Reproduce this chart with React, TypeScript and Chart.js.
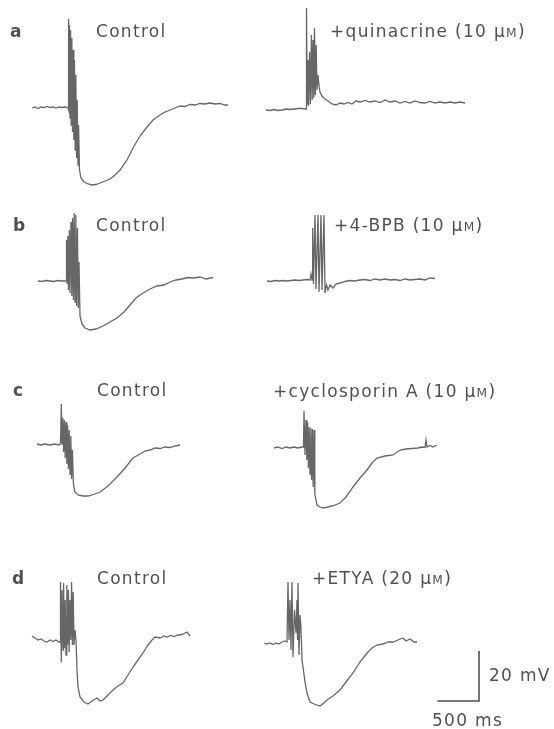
import React, { useEffect, useRef } from "react";
import { Chart, registerables } from "chart.js";

Chart.register(...registerables);

// ---------- data: time (ms from trace start), membrane potential (mV relative to resting level) ----------
const aControlT = [0, 36, 72, 108, 144, 180, 216, 252, 288, 324, 360, 396, 426, 432, 436, 442, 449, 456, 463, 470, 478, 486, 493, 502, 509, 518, 526, 535, 542, 552, 559, 570, 588, 624, 672, 720, 768, 816, 876, 936, 996, 1056, 1140, 1212, 1296, 1380, 1452, 1536, 1596, 1656, 1716, 1776, 1836, 1896, 1956, 2016, 2076, 2136, 2196, 2256, 2316, 2352];
const aControlV = [0, 0.4, -0.2, 0.4, 0.2, 0.6, 0.2, 0.4, 0, 0.4, 0.2, 0.4, 0.2, 0, 35.6, -0.8, 33.2, -4, 31.2, -6.8, 28, -9.6, 23.2, -12.8, 19.2, -16.8, 13.2, -20, 3.2, -22.8, -6.8, -24.8, -28, -29.6, -30.4, -30.8, -30.6, -30, -29.2, -28.4, -26.8, -24.8, -20.8, -16, -11.2, -7.6, -4.8, -2.8, -1.6, -0.8, 0, 0.8, 0.6, 1.4, 1.2, 1.8, 1.6, 2, 1.6, 1.8, 1.2, 1.2];

const aQuinT = [0, 48, 96, 144, 192, 240, 288, 336, 384, 432, 480, 486, 494, 504, 511, 523, 533, 545, 554, 564, 574, 582, 592, 602, 612, 624, 636, 648, 672, 708, 744, 792, 840, 888, 936, 984, 1032, 1080, 1128, 1188, 1248, 1308, 1368, 1428, 1488, 1548, 1608, 1668, 1728, 1788, 1848, 1908, 1968, 2028, 2088, 2148, 2208, 2268, 2328, 2388];
const aQuinV = [0, -0.2, 0.2, -0.2, 0, 0.4, 0.2, 0.4, 0.6, 0.6, 0.4, 40.8, 2, 20, 1.6, 23.2, 2.4, 30, 4, 28, 4.8, 32.8, 6, 26, 8, 14, 9.6, 7.2, 5.6, 4.4, 3.6, 2.4, 2, 2.8, 2.4, 3, 2.4, 3.6, 3.2, 3.8, 3.2, 3.6, 3, 4, 3.2, 3.6, 2.8, 3.4, 2.8, 3.6, 3, 2.8, 3.4, 2.8, 3.2, 2.8, 3.2, 2.8, 3.2, 2.8];

const bControlT = [0, 48, 96, 144, 192, 240, 288, 336, 342, 348, 358, 366, 376, 384, 396, 406, 415, 425, 434, 444, 454, 463, 473, 484, 492, 504, 528, 564, 624, 696, 780, 864, 948, 1032, 1104, 1176, 1260, 1344, 1428, 1512, 1584, 1656, 1728, 1800, 1872, 1944, 2016, 2100];
const bControlV = [0, -0.2, 0.2, 0, -0.2, 0.2, 0, 0, 16.4, -0.8, 18, -3.6, 20.4, -4.8, 23.6, -6, 25.2, -7.6, 27.2, -8.4, 26.4, -10, 21.2, -10.8, 7.6, -14, -17.2, -18.8, -19.6, -19.2, -18, -16.4, -14.8, -12.4, -9.6, -6.8, -4.8, -3.2, -2, -1.6, -0.4, 0.4, 0.8, 1.4, 1.2, 1.6, 0.8, 1.4];

const bBpbT = [0, 48, 96, 144, 192, 240, 288, 336, 384, 432, 480, 516, 528, 540, 548, 558, 576, 588, 612, 624, 648, 660, 684, 696, 714, 732, 756, 792, 828, 876, 936, 996, 1056, 1116, 1176, 1236, 1296, 1356, 1416, 1476, 1536, 1596, 1656, 1716, 1776, 1836, 1896, 1956, 2016];
const bBpbV = [0, -0.2, 0.2, 0, 0.2, 0, 0.2, 0.4, 0.2, 0.4, 0.6, 0.4, 2.8, 0.4, 21.2, -1.2, 26.4, -3.2, 26.4, -4.4, 26.4, -3.6, 26.4, -4.8, -1.6, -3.6, -1.6, -2.8, -1.2, -0.8, -0.2, 0.2, 0, 0.4, 0.6, 0.2, 0.8, 0.4, 0.8, 0.4, 0.6, 0.2, 0.8, 0.4, 0.6, 0.8, 0.4, 1.2, 1.0];

const cControlT = [0, 48, 96, 156, 216, 264, 282, 292, 300, 310, 319, 329, 338, 348, 358, 367, 377, 386, 396, 406, 415, 425, 437, 456, 492, 552, 612, 696, 756, 852, 960, 1056, 1152, 1236, 1296, 1356, 1416, 1476, 1536, 1596, 1656, 1716];
const cControlV = [0, -0.4, 0, -0.4, 0, -0.4, 0.2, 16, 0, 10.4, -3.2, 9.6, -5.6, 8.8, -8, 7.6, -10, 5.6, -12, 3.2, -14, -2.4, -16, -19.2, -20.4, -20.8, -20.8, -20, -19.2, -16.8, -13.2, -9.6, -5.6, -4, -2.8, -2.4, -1.6, -1.8, -1.2, -1.4, -0.8, -0.4];

const cCycloT = [0, 48, 96, 144, 192, 240, 288, 336, 354, 360, 372, 384, 394, 403, 413, 422, 432, 442, 451, 461, 470, 480, 490, 504, 516, 552, 588, 648, 720, 792, 864, 948, 1032, 1116, 1176, 1236, 1332, 1428, 1512, 1584, 1656, 1728, 1776, 1812, 1824, 1836, 1872, 1908, 1956];
const cCycloV = [0, 0.4, -0.2, 0.4, 0, 0.4, 0, 0.4, 0.4, 14.8, -2.8, 11.2, -4.8, 10.4, -8, 8.4, -10.4, 8, -12.8, 7.6, -15.6, 7.2, -18.4, -20.8, -22.8, -23.6, -24, -23.6, -23, -22, -19.6, -15.6, -12, -8.8, -6, -4, -3.2, -2.8, -0.8, -0.4, -0.2, 0, 0.4, 0.2, 3.2, 0.4, 1, 0.4, 1.2];

const dControlT = [0, 36, 72, 108, 144, 180, 216, 252, 288, 324, 336, 342, 352, 360, 372, 379, 389, 398, 408, 418, 427, 437, 446, 456, 466, 475, 485, 494, 504, 516, 528, 540, 552, 576, 624, 672, 720, 780, 816, 852, 912, 972, 1032, 1092, 1152, 1212, 1272, 1332, 1392, 1440, 1476, 1536, 1584, 1620, 1668, 1704, 1752, 1800, 1836, 1860, 1896];
const dControlV = [0.8, 0, -0.8, -0.4, -1.2, -1.6, -0.8, -1.4, -0.8, -1.6, -1.6, 22.4, -9.6, 19.2, -4.8, 22, -4, 15.2, -6.8, 21.2, -2.8, 19.2, -5.6, 15.2, -0.8, 22.4, -2.8, 18.4, -2.8, 3.2, -0.8, -12.8, -19.6, -23.6, -25.6, -26.4, -25.2, -24, -25.2, -24.8, -22.8, -20.8, -19.2, -18, -14.8, -11.6, -8.8, -6, -2.8, -0.8, 0.4, 0, 0.8, 0.4, 1, 0.6, 1.2, 1.4, 2, 2.4, 0.8];

const dEtyaT = [0, 36, 72, 108, 144, 180, 216, 252, 276, 288, 300, 312, 324, 336, 348, 366, 384, 396, 402, 408, 420, 432, 444, 456, 468, 492, 516, 552, 600, 672, 720, 756, 828, 912, 984, 1068, 1152, 1236, 1296, 1356, 1428, 1488, 1548, 1608, 1668, 1704, 1752, 1800, 1836];
const dEtyaV = [0, -0.4, 0, -0.6, 0, -0.4, 0.4, 0.8, 0.4, 24.4, 1.2, 17.2, -2.8, 24.4, -5.6, 13.2, 4, 17.2, 1.2, 24, -4.8, 11.2, 6, -6.8, -9.6, -15.6, -20, -23.6, -24.4, -25.2, -24, -22.8, -21.2, -18.8, -15.6, -12, -7.6, -4, -2, -0.8, -0.4, 0.4, 0.4, 1.2, 2, 0.8, 1.6, 0.4, 0.4];

const panelLetters = ["a", "b", "c", "d"];
const conditionLabels = ["Control", "+quinacrine (10 μ", "Control", "+4-BPB (10 μ", "Control", "+cyclosporin A (10 μ", "Control", "+ETYA (20 μ"];
const scaleTimeMs = 500;
const scaleVoltMv = 20;
const scaleLabels = ["20 mV", "500 ms"];

// ---------- layout (page pixels) ----------
const W = 554;
const H = 729;
const MS_PER_PX = 12;
const MV_PER_PX = 0.4;
const TRACE_COLOR = "#666666";
const TEXT_COLOR = "#505050";
const FONT = "'DejaVu Sans', 'Liberation Sans', Arial, sans-serif";
const FS = 17;

const traces = [
  { t: aControlT, v: aControlV, ox: 32, oy: 108 },
  { t: aQuinT, v: aQuinV, ox: 266, oy: 110 },
  { t: bControlT, v: bControlV, ox: 38, oy: 281 },
  { t: bBpbT, v: bBpbV, ox: 267, oy: 281 },
  { t: cControlT, v: cControlV, ox: 37, oy: 444 },
  { t: cCycloT, v: cCycloV, ox: 274, oy: 448 },
  { t: dControlT, v: dControlV, ox: 32, oy: 638 },
  { t: dEtyaT, v: dEtyaV, ox: 264, oy: 643 },
];
const letterPos = [
  [10, 37.5],
  [13, 231.5],
  [13, 396],
  [12, 584],
];
const labelPos = [
  [96, 37.5],
  [330, 37],
  [96, 231.5],
  [334, 231.5],
  [97, 396],
  [273, 397],
  [97, 584],
  [312, 584],
];
const scaleCorner = [479, 701];
const scaleLabelPos = [
  [489, 681],
  [432, 726],
];

const toX = (px: number) => px * MS_PER_PX;
const toY = (py: number) => (H - py) * MV_PER_PX;

// DejaVu Sans ascent ≈ 0.928em, descent ≈ 0.236em; with line-height 1 baseline sits at ≈0.846em
const BASE = 0.846;

function Txt({ x, y, bold, children }: { x: number; y: number; bold?: boolean; children: React.ReactNode }) {
  return (
    <div
      style={{
        position: "absolute",
        left: x,
        top: y - FS * BASE,
        fontFamily: FONT,
        fontSize: FS,
        lineHeight: 1,
        letterSpacing: bold ? 0 : 1.3,
        fontWeight: bold ? 700 : 400,
        color: TEXT_COLOR,
        whiteSpace: "nowrap",
      }}
    >
      {children}
    </div>
  );
}

export default function App() {
  const ref = useRef<HTMLCanvasElement | null>(null);

  useEffect(() => {
    document.body.style.margin = "0";
    const datasets: any[] = traces.map((tr) => ({
      data: tr.t.map((t, i) => ({ x: toX(tr.ox) + t, y: toY(tr.oy) + tr.v[i] })),
      borderColor: TRACE_COLOR,
      borderWidth: 1.3,
      pointRadius: 0,
      tension: 0,
      fill: false,
      showLine: true,
    }));
    const cx = toX(scaleCorner[0]);
    const cy = toY(scaleCorner[1]);
    datasets.push({
      data: [
        { x: cx - scaleTimeMs, y: cy },
        { x: cx, y: cy },
        { x: cx, y: cy + scaleVoltMv },
      ],
      borderColor: "#505050",
      borderWidth: 1.6,
      pointRadius: 0,
      tension: 0,
      fill: false,
      showLine: true,
    });
    const chart = new Chart(ref.current as HTMLCanvasElement, {
      type: "scatter",
      data: { datasets },
      options: {
        animation: false,
        responsive: false,
        devicePixelRatio: 1,
        events: [],
        layout: { padding: 0 },
        plugins: { legend: { display: false }, tooltip: { enabled: false } },
        scales: {
          x: { type: "linear", min: 0, max: W * MS_PER_PX, display: false },
          y: { type: "linear", min: 0, max: H * MV_PER_PX, display: false },
        },
      },
    });
    return () => chart.destroy();
  }, []);

  return (
    <div style={{ position: "relative", width: W, height: H, background: "#fff", overflow: "hidden" }}>
      <canvas ref={ref} width={W} height={H} style={{ position: "absolute", left: 0, top: 0 }} />
      {panelLetters.map((l, i) => (
        <Txt key={"l" + i} x={letterPos[i][0]} y={letterPos[i][1]} bold>
          {l}
        </Txt>
      ))}
      {conditionLabels.map((s, i) => (
        <Txt key={"c" + i} x={labelPos[i][0]} y={labelPos[i][1]}>
          {s}
          {s === "Control" ? null : (
            <>
              <span style={{ fontSize: FS * 0.72 }}>M</span>)
            </>
          )}
        </Txt>
      ))}
      {scaleLabels.map((s, i) => (
        <Txt key={"s" + i} x={scaleLabelPos[i][0]} y={scaleLabelPos[i][1]}>
          {s}
        </Txt>
      ))}
    </div>
  );
}
